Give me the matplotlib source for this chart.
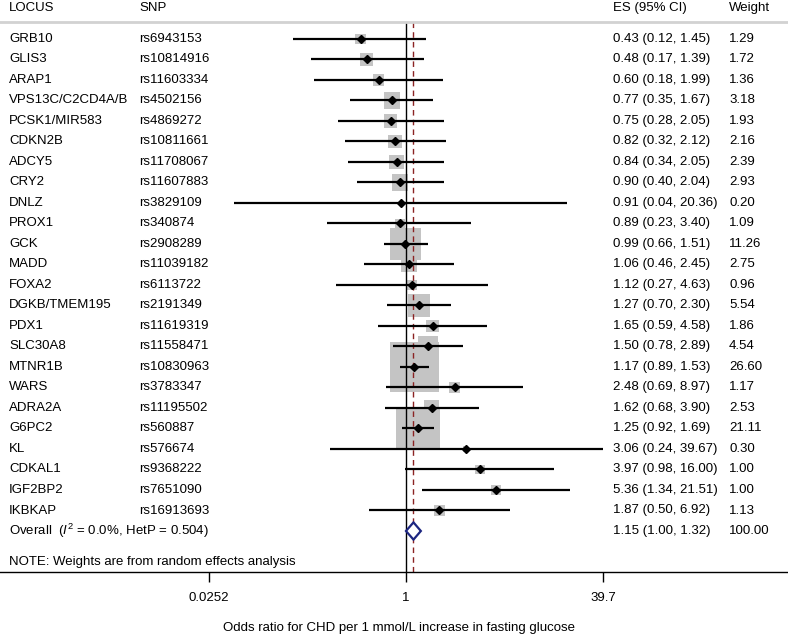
import numpy as np
import matplotlib
matplotlib.use("Agg")
import matplotlib.pyplot as plt
from matplotlib.ticker import FixedLocator, NullLocator, FixedFormatter

plt.rcParams['font.family'] = ['Liberation Sans', 'DejaVu Sans']
plt.rcParams['mathtext.fontset'] = 'custom'
plt.rcParams['mathtext.rm'] = 'Liberation Sans'
plt.rcParams['mathtext.it'] = 'Liberation Sans:italic'

# data
locus = ["GRB10", "GLIS3", "ARAP1", "VPS13C/C2CD4A/B", "PCSK1/MIR583", "CDKN2B",
         "ADCY5", "CRY2", "DNLZ", "PROX1", "GCK", "MADD", "FOXA2", "DGKB/TMEM195",
         "PDX1", "SLC30A8", "MTNR1B", "WARS", "ADRA2A", "G6PC2", "KL", "CDKAL1",
         "IGF2BP2", "IKBKAP"]
snp = ["rs6943153", "rs10814916", "rs11603334", "rs4502156", "rs4869272", "rs10811661",
       "rs11708067", "rs11607883", "rs3829109", "rs340874", "rs2908289", "rs11039182",
       "rs6113722", "rs2191349", "rs11619319", "rs11558471", "rs10830963", "rs3783347",
       "rs11195502", "rs560887", "rs576674", "rs9368222", "rs7651090", "rs16913693"]
es = [0.43, 0.48, 0.60, 0.77, 0.75, 0.82, 0.84, 0.90, 0.91, 0.89, 0.99, 1.06,
      1.12, 1.27, 1.65, 1.50, 1.17, 2.48, 1.62, 1.25, 3.06, 3.97, 5.36, 1.87]
lo = [0.12, 0.17, 0.18, 0.35, 0.28, 0.32, 0.34, 0.40, 0.04, 0.23, 0.66, 0.46,
      0.27, 0.70, 0.59, 0.78, 0.89, 0.69, 0.68, 0.92, 0.24, 0.98, 1.34, 0.50]
hi = [1.45, 1.39, 1.99, 1.67, 2.05, 2.12, 2.05, 2.04, 20.36, 3.40, 1.51, 2.45,
      4.63, 2.30, 4.58, 2.89, 1.53, 8.97, 3.90, 1.69, 39.67, 16.00, 21.51, 6.92]
weight = [1.29, 1.72, 1.36, 3.18, 1.93, 2.16, 2.39, 2.93, 0.20, 1.09, 11.26, 2.75,
          0.96, 5.54, 1.86, 4.54, 26.60, 1.17, 2.53, 21.11, 0.30, 1.00, 1.00, 1.13]
overall = [1.15, 1.00, 1.32]
overall_weight = 100.00
xticks = [0.0252, 1, 39.7]
xtick_labels = ["0.0252", "1", "39.7"]

W, H = 788, 636
fig = plt.figure(figsize=(W / 100, H / 100), dpi=100)
ax = fig.add_axes([0, (H - 572) / H, 1, (572 - 22) / H])

ax.set_xscale('log')
ax.set_xlim(10 ** (-406 / 123.2), 10 ** ((W - 406) / 123.2))
ax.set_ylim((572 - 39) / 20.5, (22 - 39) / 20.5)

fs = 9.5
rows = np.arange(len(locus))

# weight boxes
ax.scatter(es, rows, s=np.array(weight) * 46.8, marker='s', color='#c4c4c4',
           linewidths=0, zorder=1)

# reference lines
ax.axvline(1, color='black', lw=1, zorder=2)
ax.axvline(overall[0], color='#8b2323', lw=1, ls=(0, (4, 3)), zorder=2)

# CIs and point estimates
ax.hlines(rows, lo, hi, color='black', lw=1.6, zorder=3)
ax.plot(es, rows, 'D', color='black', ms=4.3, zorder=4)

# overall diamond
r_ov = len(locus)
ax.fill([overall[1], overall[0], overall[2], overall[0]],
        [r_ov, r_ov - 0.42, r_ov, r_ov + 0.42],
        facecolor='white', edgecolor='#1c2580', lw=1.6, zorder=4)

tr = ax.get_yaxis_transform()
x_loc, x_snp, x_es, x_w = 9 / W, 139 / W, 613 / W, 729 / W
for i in rows:
    ax.text(x_loc, i, locus[i], transform=tr, va='center', fontsize=fs)
    ax.text(x_snp, i, snp[i], transform=tr, va='center', fontsize=fs)
    ax.text(x_es, i, "%.2f (%.2f, %.2f)" % (es[i], lo[i], hi[i]),
            transform=tr, va='center', fontsize=fs)
    ax.text(x_w, i, "%.2f" % weight[i], transform=tr, va='center', fontsize=fs)

ax.text(x_loc, r_ov, r"Overall  ($\mathit{I}^2$ = 0.0%, HetP = 0.504)",
        transform=tr, va='center', fontsize=fs)
ax.text(x_es, r_ov, "%.2f (%.2f, %.2f)" % tuple(overall),
        transform=tr, va='center', fontsize=fs)
ax.text(x_w, r_ov, "%.2f" % overall_weight, transform=tr, va='center', fontsize=fs)
ax.text(x_loc, r_ov + 1.5, "NOTE: Weights are from random effects analysis",
        transform=tr, va='center', fontsize=fs)

# header
hy = (8.5 - 39) / 20.5
for x, t in [(x_loc, "LOCUS"), (x_snp, "SNP"), (x_es, "ES (95% CI)"), (x_w, "Weight")]:
    ax.text(x, hy, t, transform=tr, va='center', fontsize=fs, clip_on=False)

# spines / ticks
ax.spines['left'].set_visible(False)
ax.spines['right'].set_visible(False)
ax.spines['top'].set_color('#d2d2d2')
ax.spines['top'].set_linewidth(2)
ax.spines['bottom'].set_linewidth(1)
ax.yaxis.set_visible(False)
ax.xaxis.set_major_locator(FixedLocator(xticks))
ax.xaxis.set_major_formatter(FixedFormatter(xtick_labels))
ax.xaxis.set_minor_locator(NullLocator())
ax.tick_params(axis='x', direction='out', length=7.5, width=1, pad=7, labelsize=fs)

fig.text(399 / W, 1 - 628 / H, "Odds ratio for CHD per 1 mmol/L increase in fasting glucose",
         ha='center', va='center', fontsize=fs)

fig.savefig("out.png", dpi=100, facecolor='white')
